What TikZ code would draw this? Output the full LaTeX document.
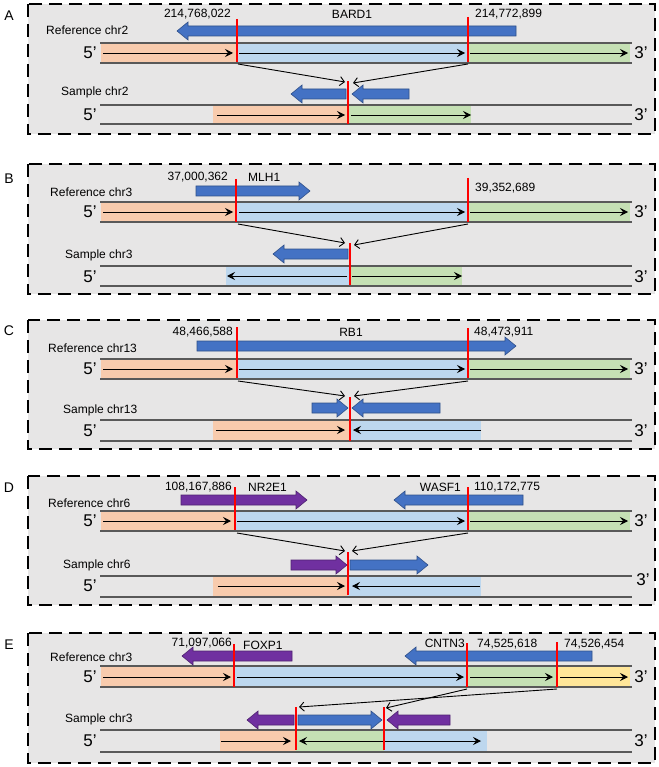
\documentclass[tikz,border=0pt]{standalone}
\usepackage{fontspec}
\setmainfont{Liberation Sans}
\usetikzlibrary{arrows.meta}

\definecolor{panelgray}{RGB}{231,230,230}
\definecolor{chromgray}{RGB}{89,89,89}
\definecolor{segorange}{RGB}{248,203,173}
\definecolor{segblue}{RGB}{189,215,238}
\definecolor{seggreen}{RGB}{197,224,180}
\definecolor{segyellow}{RGB}{255,230,153}
\definecolor{geneblue}{RGB}{68,114,196}
\definecolor{genepurple}{RGB}{112,48,160}
\definecolor{breakred}{RGB}{255,0,0}

\tikzset{
  panelbox/.style={fill=panelgray, draw=black, line width=2.6pt, dash pattern=on 13pt off 7pt},
  chromline/.style={draw=chromgray, line width=2.4pt},
  strand/.style={line width=0.8pt, -{Stealth[length=8pt,width=8pt,inset=3pt]}},
  strandboth/.style={line width=0.8pt, {Stealth[length=8pt,width=8pt,inset=3pt]}-{Stealth[length=8pt,width=8pt,inset=3pt]}},
  joinarrow/.style={line width=0.9pt, -{Straight Barb[length=4.5pt,width=9pt]}},
  breakline/.style={draw=breakred, line width=2.8pt},
  lbl/.style={font=\fontsize{12}{14}\selectfont, inner sep=0pt},
  endlbl/.style={font=\fontsize{17}{19}\selectfont, inner sep=0pt},
  panellbl/.style={font=\fontsize{14}{16}\selectfont, inner sep=0pt}
}

% block arrow: tail x, tip x, y, colour
\newcommand{\genearrow}[4]{%
  \pgfmathsetmacro{\hb}{#2>#1 ? #2-11 : #2+11}%
  \draw[fill=#4, draw=#4!70!black, line width=0.6pt]
    (#1,#3-5) -- (\hb,#3-5) -- (\hb,#3-9) -- (#2,#3)
    -- (\hb,#3+9) -- (\hb,#3+5) -- (#1,#3+5) -- cycle;}

% the two strand lines of a chromosome: top y, bottom y
\newcommand{\chromlines}[2]{%
  \draw[chromline] (100,#1) -- (632,#1);
  \draw[chromline] (100,#2) -- (632,#2);}

\begin{document}
\begin{tikzpicture}[x=1pt, y=-1pt]
\useasboundingbox (0,0) rectangle (658,767);

% ================= Panel A =================
\draw[panelbox] (28,4) rectangle (655,134);
\node[panellbl] (labA) at (9,16) {A};
% reference segments
\fill[segorange] (101,43) rectangle (237,63);
\fill[segblue] (237,43) rectangle (468,63);
\fill[seggreen] (468,43) rectangle (630,63);
\chromlines{43}{63}
\draw[strand] (103,53) -- (233,53);
\draw[strand] (239,53) -- (465,53);
\draw[strand] (470,53) -- (628,53);
% sample segments
\fill[segorange] (213,105) rectangle (348,124);
\fill[seggreen] (348,105) rectangle (471,124);
\chromlines{105}{124}
\draw[strand] (217,115) -- (345,115);
\draw[strand] (351,115) -- (471,115);
% genes
\genearrow{516}{177}{31}{geneblue}
\genearrow{346}{291}{94}{geneblue}
\genearrow{409}{352}{94}{geneblue}
% breakpoints
\draw[breakline] (237,19) -- (237,62);
\draw[breakline] (468,17) -- (468,62);
\draw[breakline] (348,81) -- (348,124);
\coordinate (aL) at (238,64);
\coordinate (aR) at (468,64);
\coordinate (aS1) at (345,82);
\coordinate (aS2) at (353,83);
\draw[joinarrow] (aL) -- (aS1);
\draw[joinarrow] (aR) -- (aS2);
% texts
\node[lbl, anchor=east] (aPos1) at (231,14) {214,768,022};
\node[lbl] (aGene) at (352,14) {BARD1};
\node[lbl, anchor=west] (aPos2) at (475,14) {214,772,899};
\node[lbl, anchor=west] (aRef) at (46,30) {Reference chr2};
\node[lbl, anchor=west] (aSam) at (61,92) {Sample chr2};
\node[endlbl] (a5r) at (90,53) {5’};
\node[endlbl] (a3r) at (641,53) {3’};
\node[endlbl] (a5s) at (90,115) {5’};
\node[endlbl] (a3s) at (641,115) {3’};

% ================= Panel B =================
\draw[panelbox] (28,164) rectangle (655,294);
\node[panellbl] (labB) at (9,179) {B};
% reference segments
\fill[segorange] (101,202) rectangle (237,222);
\fill[segblue] (237,202) rectangle (468,222);
\fill[seggreen] (468,202) rectangle (630,222);
\chromlines{202}{222}
\draw[strand] (103,212) -- (233,212);
\draw[strand] (239,212) -- (465,212);
\draw[strand] (470,212) -- (628,212);
% sample segments
\fill[segblue] (226,266) rectangle (350,286);
\fill[seggreen] (350,266) rectangle (462,286);
\chromlines{266}{286}
\draw[strand] (347,276) -- (227,276);
\draw[strand] (352,276) -- (462,276);
% genes
\genearrow{196}{310}{191}{geneblue}
\genearrow{348}{273}{254}{geneblue}
% breakpoints
\draw[breakline] (236,179) -- (236,222);
\draw[breakline] (468,178) -- (468,222);
\draw[breakline] (350,243) -- (350,285);
\coordinate (bL) at (238,224);
\coordinate (bR) at (468,224);
\coordinate (bS1) at (345,243);
\coordinate (bS2) at (354,245);
\draw[joinarrow] (bL) -- (bS1);
\draw[joinarrow] (bR) -- (bS2);
% texts
\node[lbl, anchor=east] (bPos1) at (228,177) {37,000,362};
\node[lbl, anchor=west] (bGene) at (248,177) {MLH1};
\node[lbl, anchor=west] (bPos2) at (475,188) {39,352,689};
\node[lbl, anchor=west] (bRef) at (50,192) {Reference chr3};
\node[lbl, anchor=west] (bSam) at (65,255) {Sample chr3};
\node[endlbl] (b5r) at (90,212) {5’};
\node[endlbl] (b3r) at (641,212) {3’};
\node[endlbl] (b5s) at (90,277) {5’};
\node[endlbl] (b3s) at (641,277) {3’};

% ================= Panel C =================
\draw[panelbox] (28,320) rectangle (655,449);
\node[panellbl] (labC) at (9,331) {C};
% reference segments
\fill[segorange] (101,359) rectangle (237,379);
\fill[segblue] (237,359) rectangle (468,379);
\fill[seggreen] (468,359) rectangle (630,379);
\chromlines{359}{379}
\draw[strand] (103,369) -- (233,369);
\draw[strand] (239,369) -- (465,369);
\draw[strand] (470,369) -- (628,369);
% sample segments
\fill[segorange] (213,420) rectangle (350,441);
\fill[segblue] (350,420) rectangle (481,441);
\chromlines{420}{441}
\draw[strand] (216,430) -- (345,430);
\draw[strand] (481,430) -- (353,430);
% genes
\genearrow{197}{516}{346}{geneblue}
\genearrow{312}{348}{408}{geneblue}
\genearrow{440}{352}{408}{geneblue}
% breakpoints
\draw[breakline] (237,327) -- (237,378);
\draw[breakline] (468,328) -- (468,378);
\draw[breakline] (350,397) -- (350,441);
\coordinate (cL) at (238,381);
\coordinate (cR) at (468,381);
\coordinate (cS1) at (345,396);
\coordinate (cS2) at (354,396);
\draw[joinarrow] (cL) -- (cS1);
\draw[joinarrow] (cR) -- (cS2);
% texts
\node[lbl, anchor=east] (cPos1) at (233,332) {48,466,588};
\node[lbl] (cGene) at (351,332) {RB1};
\node[lbl, anchor=west] (cPos2) at (474,332) {48,473,911};
\node[lbl, anchor=west] (cRef) at (48,348) {Reference chr13};
\node[lbl, anchor=west] (cSam) at (63,410) {Sample chr13};
\node[endlbl] (c5r) at (90,369) {5’};
\node[endlbl] (c3r) at (641,369) {3’};
\node[endlbl] (c5s) at (90,431) {5’};
\node[endlbl] (c3s) at (641,431) {3’};

% ================= Panel D =================
\draw[panelbox] (28,476) rectangle (655,605);
\node[panellbl] (labD) at (9,488) {D};
% reference segments
\fill[segorange] (101,511) rectangle (235,531);
\fill[segblue] (235,511) rectangle (468,531);
\fill[seggreen] (468,511) rectangle (630,531);
\chromlines{511}{531}
\draw[strand] (103,521) -- (231,521);
\draw[strand] (237,521) -- (465,521);
\draw[strand] (470,521) -- (628,521);
% sample segments
\fill[segorange] (213,576) rectangle (348,597);
\fill[segblue] (348,576) rectangle (481,597);
\chromlines{576}{597}
\draw[strand] (218,586) -- (345,586);
\draw[strand] (480,586) -- (352,586);
% genes
\genearrow{181}{307}{500}{genepurple}
\genearrow{523}{394}{500}{geneblue}
\genearrow{291}{347}{565}{genepurple}
\genearrow{350}{428}{565}{geneblue}
% breakpoints
\draw[breakline] (235,487) -- (235,530);
\draw[breakline] (468,487) -- (468,530);
\draw[breakline] (348,552) -- (348,595);
\coordinate (dL) at (237,533);
\coordinate (dR) at (468,533);
\coordinate (dS1) at (345,551);
\coordinate (dS2) at (352,551);
\draw[joinarrow] (dL) -- (dS1);
\draw[joinarrow] (dR) -- (dS2);
% texts
\node[lbl, anchor=east] (dPos1) at (232,487) {108,167,886};
\node[lbl, anchor=west] (dGene1) at (248,487) {NR2E1};
\node[lbl, anchor=east] (dGene2) at (461,487) {WASF1};
\node[lbl, anchor=west] (dPos2) at (474,487) {110,172,775};
\node[lbl, anchor=west] (dRef) at (48,503) {Reference chr6};
\node[lbl, anchor=west] (dSam) at (63,565) {Sample chr6};
\node[endlbl] (d5r) at (90,521) {5’};
\node[endlbl] (d3r) at (641,521) {3’};
\node[endlbl] (d5s) at (90,586) {5’};
\node[endlbl] (d3s) at (643,580) {3’};

% ================= Panel E =================
\draw[panelbox] (28,633) rectangle (655,763);
\node[panellbl] (labE) at (9,645) {E};
% reference segments
\fill[segorange] (101,666) rectangle (234,687);
\fill[segblue] (234,666) rectangle (467,687);
\fill[seggreen] (467,666) rectangle (557,687);
\fill[segyellow] (557,666) rectangle (630,687);
\chromlines{666}{687}
\draw[strand] (103,677) -- (231,677);
\draw[strand] (237,677) -- (464,677);
\draw[strand] (470,677) -- (553,677);
\draw[strand] (560,677) -- (628,677);
% sample segments
\fill[segorange] (220,730) rectangle (296,752);
\fill[seggreen] (296,730) rectangle (384,752);
\fill[segblue] (384,730) rectangle (487,752);
\chromlines{730}{752}
\draw[strand] (221,741) -- (291,741);
\draw[strandboth] (299,741) -- (481,741);
% genes
\genearrow{292}{182}{656}{genepurple}
\genearrow{592}{405}{656}{geneblue}
\genearrow{294}{247}{720}{genepurple}
\genearrow{298}{382}{720}{geneblue}
\genearrow{450}{387}{720}{genepurple}
% breakpoints
\draw[breakline] (234,644) -- (234,687);
\draw[breakline] (467,643) -- (467,687);
\draw[breakline] (557,642) -- (557,687);
\draw[breakline] (296,707) -- (296,750);
\draw[breakline] (384,707) -- (384,750);
\coordinate (eM) at (467,689);
\coordinate (eR) at (557,689);
\coordinate (eS1) at (299,707);
\coordinate (eS2) at (386,708);
\draw[joinarrow] (eM) -- (eS2);
\draw[joinarrow] (eR) -- (eS1);
% texts
\node[lbl, anchor=east] (ePos1) at (232,643) {71,097,066};
\node[lbl, anchor=west] (eGene1) at (243,645) {FOXP1};
\node[lbl, anchor=east] (eGene2) at (465,643) {CNTN3};
\node[lbl, anchor=west] (ePos2) at (477,644) {74,525,618};
\node[lbl, anchor=west] (ePos3) at (564,644) {74,526,454};
\node[lbl, anchor=west] (eRef) at (50,657) {Reference chr3};
\node[lbl, anchor=west] (eSam) at (65,719) {Sample chr3};
\node[endlbl] (e5r) at (90,677) {5’};
\node[endlbl] (e3r) at (641,677) {3’};
\node[endlbl] (e5s) at (90,741) {5’};
\node[endlbl] (e3s) at (641,741) {3’};

\end{tikzpicture}
\end{document}
